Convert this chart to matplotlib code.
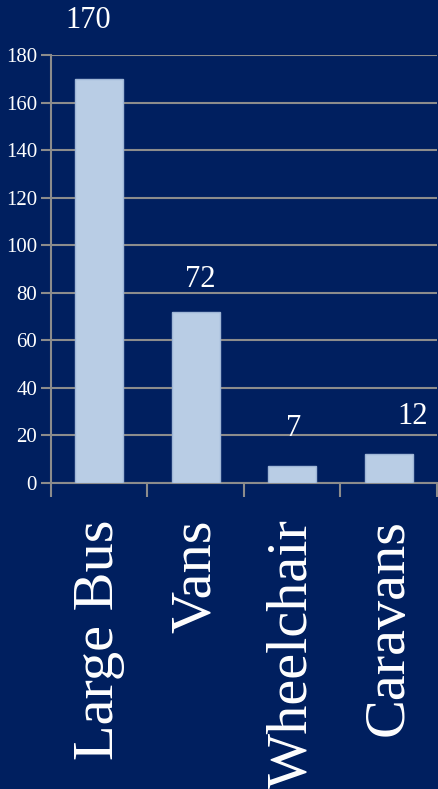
import matplotlib.pyplot as plt
from matplotlib.ticker import MultipleLocator, FixedLocator

categories = ["Large Bus", "Vans", "Wheelchair", "Caravans"]
values = [170, 72, 7, 12]

# label nudges (points) to mimic the original placement
label_dx = [-8, 3, 1, 17]
label_dy = [42, 23, 27, 27]

bg = "#001f5f"
grid_col = "#8c8c8c"
plt.rcParams["font.family"] = ["Liberation Serif", "DejaVu Serif"]

fig = plt.figure(figsize=(4.38, 7.89), dpi=100, facecolor=bg)
ax = fig.add_axes([0.1164, 0.3878, 0.8813, 0.5425], facecolor=bg)

x = range(len(categories))
ax.bar(x, values, width=0.5, color="#b9cde5", edgecolor="#9fb6d6", linewidth=1, zorder=3)

for i, v in enumerate(values):
    ax.annotate(str(v), (i, v), xytext=(label_dx[i], label_dy[i]), textcoords="offset points",
                ha="center", va="center", color="white", fontsize=22, annotation_clip=False)

ax.set_ylim(0, 180)
ax.set_xlim(-0.5, 3.5)
ax.yaxis.set_major_locator(MultipleLocator(20))
ax.grid(axis="y", color=grid_col, linewidth=1.5, zorder=0)

ax.set_xticks(list(x))
ax.set_xticklabels(categories, rotation=90, fontsize=42, color="white")
ax.xaxis.set_minor_locator(FixedLocator([-0.5, 0.5, 1.5, 2.5, 3.5]))
ax.tick_params(axis="x", which="major", length=0, pad=26)
ax.tick_params(axis="x", which="minor", length=10, width=1.5, color=grid_col)
ax.tick_params(axis="y", length=7, width=1.5, color=grid_col, labelcolor="white", labelsize=15, pad=3)

for s in ["top", "right"]:
    ax.spines[s].set_visible(False)
for s in ["left", "bottom"]:
    ax.spines[s].set_color(grid_col)
    ax.spines[s].set_linewidth(1.5)

fig.savefig("out.png", dpi=100, facecolor=bg)
